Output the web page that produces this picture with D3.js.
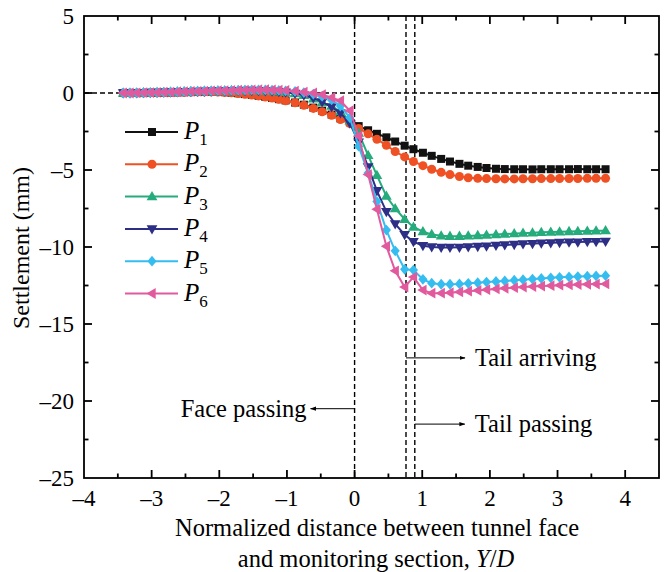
<!DOCTYPE html>
<html>
<head>
<meta charset="utf-8">
<script src="https://cdn.jsdelivr.net/npm/d3@7/dist/d3.min.js"></script>
<style>
  html, body { margin: 0; padding: 0; background: #fff; }
  svg { display: block; font-family: "Liberation Serif", "Times New Roman", serif; }
</style>
</head>
<body>
<svg id="chart" width="668" height="572"></svg>
<script>
// ---- data ----
const xValues = [-3.42, -3.32, -3.22, -3.12, -3.02, -2.92, -2.82, -2.72, -2.62, -2.52,
  -2.42, -2.32, -2.22, -2.12, -2.02, -1.92, -1.82, -1.72, -1.62, -1.52,
  -1.42, -1.32, -1.22, -1.12, -1.02, -0.88, -0.75, -0.61, -0.48, -0.34,
  -0.21, -0.07, 0.06, 0.20, 0.33, 0.47, 0.60, 0.74, 0.87, 1.01,
  1.14, 1.28, 1.41, 1.55, 1.68, 1.82, 1.95, 2.09, 2.22, 2.36,
  2.49, 2.63, 2.76, 2.90, 3.03, 3.17, 3.30, 3.44, 3.57, 3.71];

const P1 = [0.0, 0.0, 0.0, 0.0, 0.01, 0.01, 0.02, 0.03, 0.04, 0.05,
  0.06, 0.07, 0.08, 0.08, 0.07, 0.05, 0.02, -0.02, -0.07, -0.12,
  -0.18, -0.25, -0.32, -0.40, -0.48, -0.62, -0.76, -0.95, -1.15, -1.40,
  -1.65, -1.90, -2.15, -2.42, -2.65, -2.88, -3.15, -3.42, -3.65, -3.88,
  -4.08, -4.28, -4.45, -4.60, -4.72, -4.80, -4.87, -4.92, -4.94, -4.95,
  -4.95, -4.96, -4.95, -4.95, -4.95, -4.95, -4.94, -4.95, -4.95, -4.95];

const P2 = [0.0, 0.0, 0.0, 0.0, 0.01, 0.01, 0.02, 0.03, 0.04, 0.05,
  0.06, 0.07, 0.07, 0.07, 0.06, 0.04, 0.01, -0.03, -0.08, -0.13,
  -0.19, -0.26, -0.33, -0.41, -0.50, -0.63, -0.80, -1.00, -1.22, -1.45,
  -1.72, -1.98, -2.30, -2.65, -3.00, -3.40, -3.80, -4.15, -4.45, -4.72,
  -4.95, -5.15, -5.30, -5.42, -5.50, -5.54, -5.56, -5.57, -5.58, -5.58,
  -5.57, -5.57, -5.56, -5.56, -5.55, -5.55, -5.55, -5.54, -5.54, -5.54];

const P3 = [0.0, 0.0, 0.01, 0.02, 0.03, 0.04, 0.05, 0.06, 0.08, 0.09,
  0.10, 0.11, 0.12, 0.13, 0.14, 0.14, 0.15, 0.15, 0.15, 0.15,
  0.14, 0.13, 0.11, 0.08, 0.04, -0.03, -0.15, -0.38, -0.62, -0.85,
  -1.20, -1.80, -2.60, -4.05, -5.35, -6.70, -7.50, -8.20, -8.70, -9.00,
  -9.18, -9.27, -9.30, -9.30, -9.28, -9.25, -9.22, -9.19, -9.16, -9.13,
  -9.10, -9.08, -9.05, -9.03, -9.01, -8.99, -8.98, -8.96, -8.95, -8.94];

const P4 = [0.0, 0.0, 0.01, 0.02, 0.03, 0.04, 0.05, 0.06, 0.07, 0.08,
  0.09, 0.10, 0.11, 0.12, 0.13, 0.14, 0.15, 0.15, 0.16, 0.16,
  0.15, 0.14, 0.12, 0.09, 0.05, -0.02, -0.14, -0.32, -0.58, -0.90,
  -1.30, -1.95, -3.20, -4.80, -6.35, -7.70, -8.50, -9.20, -9.65, -9.92,
  -10.00, -10.03, -10.03, -10.02, -10.00, -9.97, -9.94, -9.90, -9.87, -9.84,
  -9.80, -9.78, -9.75, -9.73, -9.71, -9.69, -9.68, -9.66, -9.65, -9.64];

const P5 = [0.0, 0.0, 0.01, 0.02, 0.03, 0.04, 0.05, 0.07, 0.08, 0.09,
  0.10, 0.12, 0.13, 0.14, 0.15, 0.16, 0.17, 0.18, 0.19, 0.20,
  0.20, 0.20, 0.19, 0.17, 0.14, 0.10, 0.03, -0.07, -0.22, -0.45,
  -0.85, -1.60, -3.45, -5.20, -7.05, -8.90, -10.25, -11.45, -11.50, -12.10,
  -12.35, -12.42, -12.42, -12.40, -12.36, -12.32, -12.28, -12.24, -12.20, -12.16,
  -12.12, -12.08, -12.04, -12.00, -11.97, -11.94, -11.92, -11.90, -11.88, -11.86];

const P6 = [0.0, 0.0, 0.01, 0.02, 0.03, 0.04, 0.05, 0.06, 0.08, 0.09,
  0.10, 0.11, 0.12, 0.14, 0.15, 0.16, 0.17, 0.18, 0.19, 0.20,
  0.21, 0.21, 0.20, 0.19, 0.17, 0.12, 0.06, 0.0, -0.10, -0.30,
  -0.50, -1.15, -2.80, -5.30, -7.55, -9.95, -11.55, -12.60, -11.95, -12.80,
  -13.00, -13.00, -12.97, -12.92, -12.87, -12.82, -12.77, -12.72, -12.68, -12.64,
  -12.60, -12.57, -12.54, -12.51, -12.48, -12.46, -12.44, -12.42, -12.41, -12.40];

const seriesNames = ["1", "2", "3", "4", "5", "6"];
const seriesValues = [P1, P2, P3, P4, P5, P6];
const seriesColors = ["#111111", "#ef5124", "#25ab7c", "#2d2f86", "#35bdf0", "#e25a9e"];
const seriesMarkers = ["square", "circle", "triUp", "triDown", "diamond", "triLeft"];

const xTicks = [-4, -3, -2, -1, 0, 1, 2, 3, 4];
const yTicks = [5, 0, -5, -10, -15, -20, -25];
const markerLines = [0, 0.76, 0.89];   // face passing, tail arriving, tail passing
const annotations = [
  {text: "Face passing", lineX: 0, y: -20.5, dir: -1},
  {text: "Tail arriving", lineX: 0.76, y: -17.2, dir: 1},
  {text: "Tail passing", lineX: 0.89, y: -21.5, dir: 1}
];

// ---- layout ----
const svg = d3.select("#chart");
const L = 84, R = 659, T = 16, B = 478;
const x = d3.scaleLinear().domain([-4, 4.5]).range([L, R]);
const y = d3.scaleLinear().domain([-25, 5]).range([B, T]);
const fmt = v => (v < 0 ? "\u2013" + Math.abs(v) : String(v));

// defs: arrowhead
const defs = svg.append("defs");
defs.append("marker").attr("id", "arrow").attr("viewBox", "0 0 10 10")
  .attr("refX", 9).attr("refY", 5).attr("markerWidth", 6).attr("markerHeight", 6)
  .attr("orient", "auto-start-reverse")
  .append("path").attr("d", "M0,1.5 L10,5 L0,8.5 Z").attr("fill", "#000");

// reference dashed lines
svg.append("line").attr("x1", L).attr("x2", R).attr("y1", y(0)).attr("y2", y(0))
  .attr("stroke", "#000").attr("stroke-width", 1.4).attr("stroke-dasharray", "5,3");
markerLines.forEach(v => {
  svg.append("line").attr("x1", x(v)).attr("x2", x(v)).attr("y1", T).attr("y2", B)
    .attr("stroke", "#000").attr("stroke-width", 1.4).attr("stroke-dasharray", "5,3");
});

// annotations
annotations.forEach(a => {
  const x0 = x(a.lineX), yy = y(a.y);
  const x1 = a.dir < 0 ? x0 - 44 : x0 + 59 - (a.lineX > 0.8 ? 9 : 0);
  svg.append("line").attr("x1", x0).attr("x2", x1).attr("y1", yy).attr("y2", yy)
    .attr("stroke", "#000").attr("stroke-width", 1).attr("marker-end", "url(#arrow)");
  svg.append("text").attr("x", a.dir < 0 ? x1 - 4 : x1 + 10).attr("y", yy + 8)
    .attr("text-anchor", a.dir < 0 ? "end" : "start")
    .attr("font-size", 24.5).attr("fill", "#000").text(a.text);
});

// markers
function drawMarker(g, type, cx, cy, color) {
  const s = 4.6;
  if (type === "square") {
    g.append("rect").attr("x", cx - 4).attr("y", cy - 4).attr("width", 8).attr("height", 8).attr("fill", color);
  } else if (type === "circle") {
    g.append("circle").attr("cx", cx).attr("cy", cy).attr("r", 4.5).attr("fill", color);
  } else {
    let pts;
    if (type === "triUp") pts = [[0, -s - 1], [s + 0.8, s * 0.8], [-s - 0.8, s * 0.8]];
    else if (type === "triDown") pts = [[0, s + 1], [s + 0.8, -s * 0.8], [-s - 0.8, -s * 0.8]];
    else if (type === "triLeft") pts = [[-s - 1, 0], [s * 0.8, -s - 0.8], [s * 0.8, s + 0.8]];
    else pts = [[0, -s - 0.8], [s, 0], [0, s + 0.8], [-s, 0]];
    g.append("polygon").attr("points", pts.map(p => (cx + p[0]) + "," + (cy + p[1])).join(" ")).attr("fill", color);
  }
}

const line = d3.line().x(d => x(d[0])).y(d => y(d[1]));
seriesValues.forEach((vals, i) => {
  const data = xValues.map((xv, j) => [xv, vals[j]]);
  const g = svg.append("g");
  g.append("path").datum(data).attr("d", line).attr("fill", "none")
    .attr("stroke", seriesColors[i]).attr("stroke-width", 2);
  data.forEach(d => drawMarker(g, seriesMarkers[i], x(d[0]), y(d[1]), seriesColors[i]));
});

// axes (ticks inward on all four sides)
const sw = 1.8;
const axisG = svg.append("g").attr("stroke", "#000").attr("stroke-width", sw).attr("fill", "none");
axisG.append("rect").attr("x", L).attr("y", T).attr("width", R - L).attr("height", B - T);
const xMinor = d3.range(-4, 4.51, 0.5);
xMinor.forEach(v => {
  const major = Math.abs(v - Math.round(v)) < 1e-6;
  const len = major ? 8 : 4.5;
  if (v <= -4 || v >= 4.5) return;
  axisG.append("line").attr("x1", x(v)).attr("x2", x(v)).attr("y1", B).attr("y2", B - len);
  axisG.append("line").attr("x1", x(v)).attr("x2", x(v)).attr("y1", T).attr("y2", T + len);
});
const yMinor = d3.range(-25, 5.01, 2.5);
yMinor.forEach(v => {
  const major = Math.abs(v / 5 - Math.round(v / 5)) < 1e-6;
  const len = major ? 8 : 4.5;
  if (v <= -25 || v >= 5) return;
  axisG.append("line").attr("x1", L).attr("x2", L + len).attr("y1", y(v)).attr("y2", y(v));
  axisG.append("line").attr("x1", R).attr("x2", R - len).attr("y1", y(v)).attr("y2", y(v));
});

// tick labels
svg.append("g").selectAll("text").data(xTicks).join("text")
  .attr("x", d => x(d)).attr("y", B + 28).attr("text-anchor", "middle")
  .attr("font-size", 23).attr("fill", "#000").text(fmt);
svg.append("g").selectAll("text").data(yTicks).join("text")
  .attr("x", L - 10).attr("y", d => y(d) + 8).attr("text-anchor", "end")
  .attr("font-size", 23).attr("fill", "#000").text(fmt);

// axis titles
svg.append("text").attr("transform", `translate(29,${(T + B) / 2 + 1}) rotate(-90)`)
  .attr("text-anchor", "middle").attr("font-size", 24).attr("fill", "#000").text("Settlement (mm)");
svg.append("text").attr("x", 377).attr("y", 536).attr("text-anchor", "middle")
  .attr("font-size", 24.5).attr("fill", "#000").text("Normalized distance between tunnel face");
const t2 = svg.append("text").attr("x", 376).attr("y", 567).attr("text-anchor", "middle")
  .attr("font-size", 24.5).attr("fill", "#000");
t2.append("tspan").text("and monitoring section, ");
t2.append("tspan").attr("font-style", "italic").text("Y");
t2.append("tspan").text("/");
t2.append("tspan").attr("font-style", "italic").text("D");

// legend
const legendY0 = 132, legendDy = 32.3;
seriesNames.forEach((n, i) => {
  const ly = legendY0 + i * legendDy;
  const g = svg.append("g");
  g.append("line").attr("x1", 125).attr("x2", 178).attr("y1", ly).attr("y2", ly)
    .attr("stroke", seriesColors[i]).attr("stroke-width", 2);
  drawMarker(g, seriesMarkers[i], 152, ly, seriesColors[i]);
  const t = g.append("text").attr("x", 184).attr("y", ly + 7).attr("font-size", 25).attr("fill", "#000");
  t.append("tspan").attr("font-style", "italic").text("P");
  t.append("tspan").attr("font-size", 17).attr("dy", 6).text(n);
});
</script>
</body>
</html>
